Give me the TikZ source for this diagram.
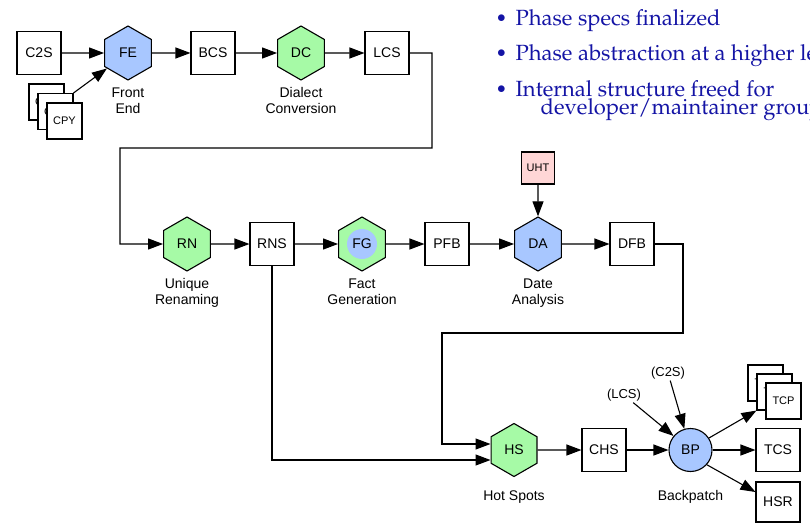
\documentclass[tikz,border=0pt]{standalone}
\usepackage[T1]{fontenc}
\usepackage{fontspec}
\setmainfont{Liberation Sans}
\usetikzlibrary{arrows.meta,shapes.geometric}

\definecolor{hexblue}{RGB}{168,199,255}
\definecolor{hexgreen}{RGB}{166,250,166}
\definecolor{notepink}{RGB}{255,214,214}
\definecolor{slideblue}{RGB}{20,20,165}

% Palatino-like serif for the bullet list
\newcommand\slidefont{\fontencoding{T1}\fontfamily{ppl}\fontseries{m}\fontshape{n}\fontsize{22}{24}\selectfont}
\newcommand\dotfont{\fontsize{17}{17}\selectfont}

\begin{document}
\begin{tikzpicture}[x=1pt,y=-1pt,line width=1.1pt,
  box/.style={draw,fill=white,minimum width=44pt,minimum height=43pt,inner sep=0pt,
    font=\fontsize{14}{16}\selectfont},
  stackbox/.style={box,minimum width=35pt,minimum height=36pt,font=\fontsize{11}{13}\selectfont},
  hex/.style={draw,regular polygon,regular polygon sides=6,shape border rotate=90,
    minimum size=54pt,inner sep=0pt,font=\fontsize{14}{16}\selectfont},
  lbl/.style={align=center,inner sep=0pt,anchor=north,font=\fontsize{14}{16}\selectfont},
  ref/.style={inner sep=1pt,font=\fontsize{13}{15}\selectfont},
  arr/.style={-{Triangle[length=15pt,width=11pt]}},
  itemtext/.style={anchor=base west,inner sep=0pt,text=slideblue,font=\slidefont},
  itemdot/.style={anchor=base,inner sep=0pt,text=slideblue,font=\dotfont}]

\path[use as bounding box] (0,0) rectangle (810,524);
\clip (0,0) rectangle (810,524);

% ---- bullet list ----
\node[itemdot]  (dot1)  at (501.5,22.3) {$\bullet$};
\node[itemtext] (item1) at (515,26)   {Phase specs finalized};
\node[itemdot]  (dot2)  at (501.5,57.3) {$\bullet$};
\node[itemtext] (item2) at (515,61)   {Phase abstraction at a higher level};
\node[itemdot]  (dot3)  at (501.5,93.3) {$\bullet$};
\node[itemtext] (item3) at (515,97)   {Internal structure freed for};
\node[itemtext] (item4) at (540,114)  {developer/maintainer groups};

% ---- front end row ----
\node[box] (C2S) at (39,53) {C2S};
\node[hex,fill=hexblue] (FE) at (128,53) {FE};
\node[box] (BCS) at (213,53) {BCS};
\node[hex,fill=hexgreen] (DC) at (301,53) {DC};
\node[box] (LCS) at (387,53) {LCS};
\node[lbl] (FElbl) at (128,87) {Front\\End};
\node[lbl] (DClbl) at (301,87) {Dialect\\Conversion};

\node[stackbox] (cpy1) at (46.5,102) {CPY};
\node[stackbox] (cpy2) at (55.5,111.5) {CPY};
\node[stackbox] (cpy3) at (64.5,121) {CPY};

\draw[arr] (C2S) -- (FE);
\draw[arr] (cpy2.north east) -- (FE);
\draw[arr] (FE) -- (BCS);
\draw[arr] (BCS) -- (DC);
\draw[arr] (DC) -- (LCS);

% ---- analysis row ----
\node[hex,fill=hexgreen] (RN) at (187,244) {RN};
\node[box] (RNS) at (272,244) {RNS};
\node[hex,fill=hexgreen,
  path picture={\fill[hexblue] (path picture bounding box.center) circle[radius=15pt];}]
  (FG) at (362,244) {FG};
\node[box] (PFB) at (447,244) {PFB};
\node[hex,fill=hexblue] (DA) at (538,244) {DA};
\node[box] (DFB) at (632,244) {DFB};
\node[box,fill=notepink,minimum width=33pt,minimum height=32pt,font=\fontsize{11}{13}\selectfont]
  (UHT) at (538,168) {UHT};
\node[lbl] (RNlbl) at (187,278) {Unique\\Renaming};
\node[lbl] (FGlbl) at (362,278) {Fact\\Generation};
\node[lbl] (DAlbl) at (538,278) {Date\\Analysis};

\draw[arr] (LCS.east) -| (432,148) -| (120,244) -- (RN);
\draw[arr] (RN) -- (RNS);
\draw[arr] (RNS) -- (FG);
\draw[arr] (FG) -- (PFB);
\draw[arr] (PFB) -- (DA);
\draw[arr] (DA) -- (DFB);
\draw[arr] (UHT) -- (DA);

% ---- backpatch row ----
\node[hex,fill=hexgreen,minimum size=53pt] (HS) at (514,450) {HS};
\node[box] (CHS) at (604,450) {CHS};
\node[circle,draw,fill=hexblue,minimum size=43pt,inner sep=0pt,
  font=\fontsize{14}{16}\selectfont] (BP) at (690.5,450) {BP};
\node[box] (TCS) at (778,450) {TCS};
\node[box,minimum height=40pt] (HSR) at (778,502) {HSR};
\node[stackbox] (tcp1) at (765.5,383) {TCP};
\node[stackbox] (tcp2) at (774.5,392) {TCP};
\node[stackbox] (tcp3) at (783.5,401) {TCP};
\node[ref] (lcsref) at (624,395) {(LCS)};
\node[ref] (c2sref) at (668,373) {(C2S)};
\node[lbl] (HSlbl) at (514,490) {Hot Spots};
\node[lbl] (BPlbl) at (690.5,490) {Backpatch};

\coordinate (hsinA) at (442,444);
\coordinate (hsinB) at (272,460);
\coordinate (hsrin) at (756,492);

\draw[arr] (DFB.east) -| (683,333) -| (hsinA) -- (HS.180 |- hsinA);
\draw[arr] (RNS.south) |- (HS.180 |- hsinB);
\draw[arr] (HS) -- (CHS);
\draw[arr] (CHS) -- (BP);
\draw[arr] (lcsref) -- (BP);
\draw[arr] (c2sref) -- (BP);
\draw[arr] (BP) -- (TCS);
\draw[arr] (BP.33) -- (tcp2.south west);
\draw[arr] (BP.-42) -- (HSR.west |- hsrin);
\end{tikzpicture}
\end{document}
